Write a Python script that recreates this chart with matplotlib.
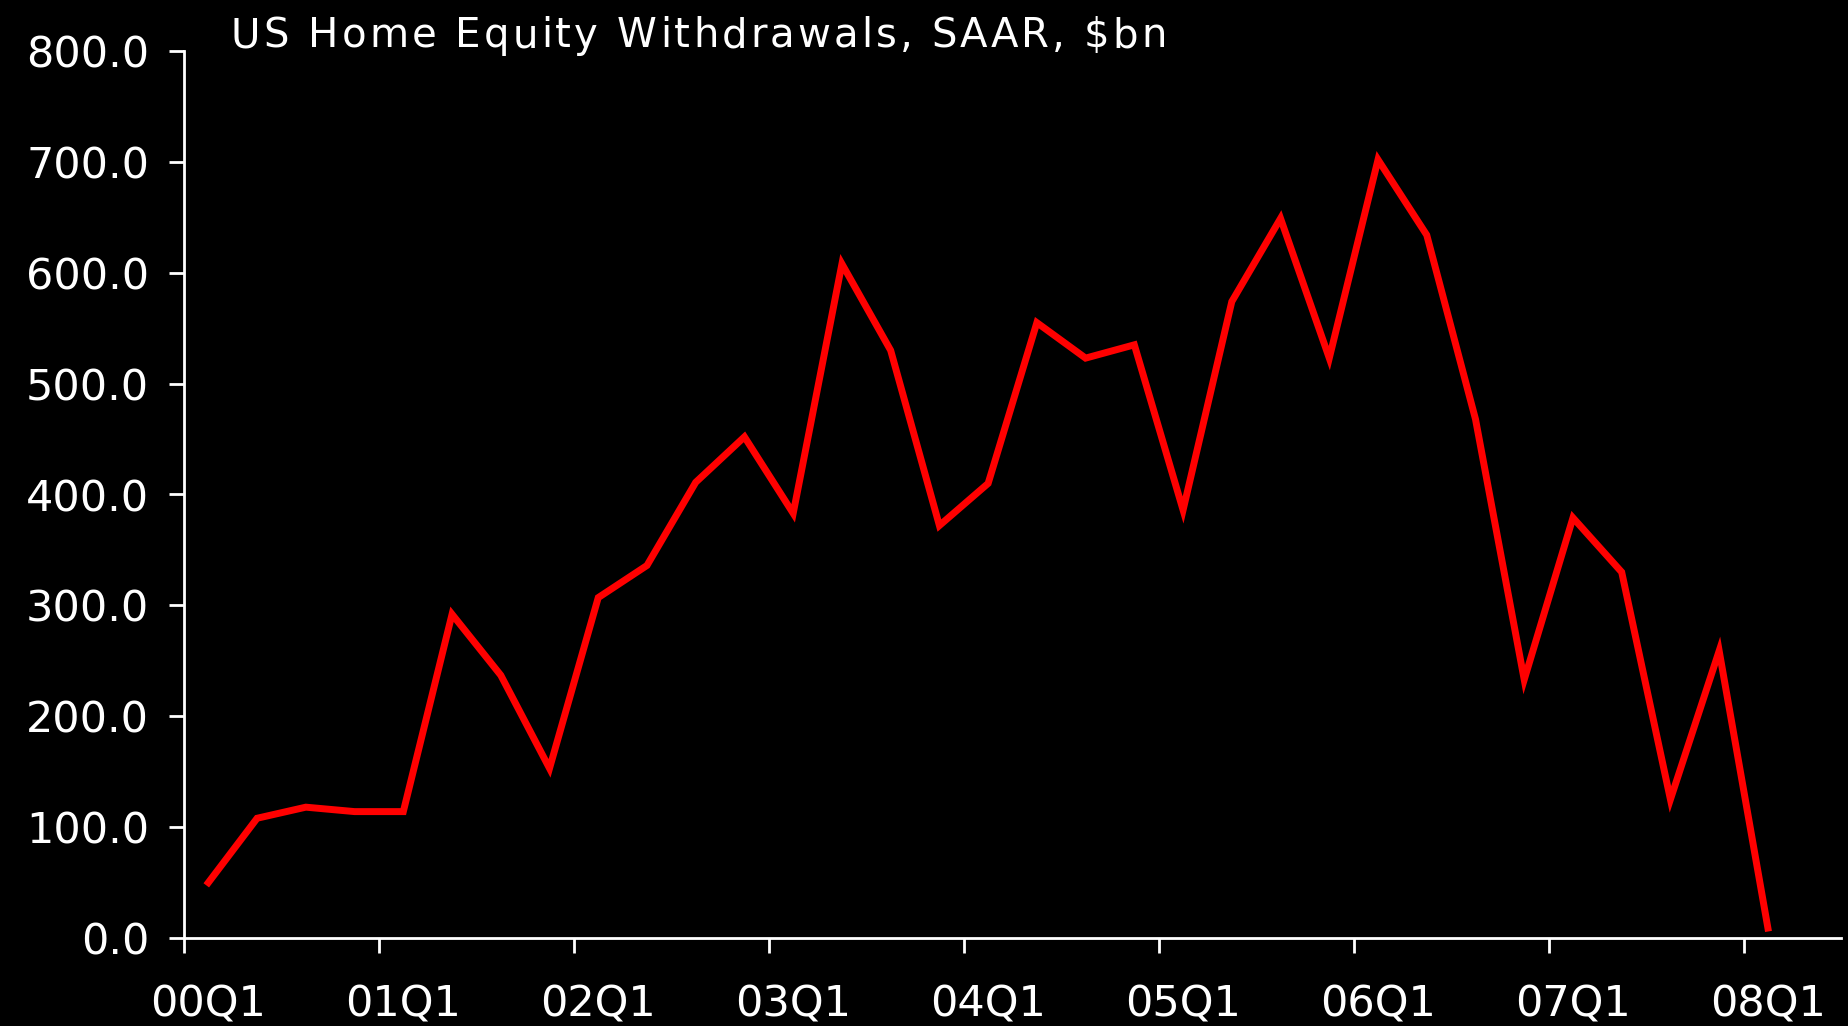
import matplotlib
matplotlib.use("Agg")
import matplotlib.pyplot as plt
import numpy as np

quarters = ["00Q1","00Q2","00Q3","00Q4","01Q1","01Q2","01Q3","01Q4",
            "02Q1","02Q2","02Q3","02Q4","03Q1","03Q2","03Q3","03Q4",
            "04Q1","04Q2","04Q3","04Q4","05Q1","05Q2","05Q3","05Q4",
            "06Q1","06Q2","06Q3","06Q4","07Q1","07Q2","07Q3","07Q4","08Q1"]
withdrawals = [50, 108, 118, 114, 114, 292, 237, 153,
               307, 336, 411, 452, 383, 608, 530, 372,
               410, 555, 523, 535, 386, 574, 649, 523,
               702, 634, 468, 233, 379, 330, 125, 259, 9]
yticks = [0, 100, 200, 300, 400, 500, 600, 700, 800]
title = "US Home Equity Withdrawals, SAAR, $bn"

plt.rcParams['font.family'] = ['DejaVu Sans']

W, H = 1849, 1026
fig = plt.figure(figsize=(W/100, H/100), dpi=100, facecolor='black')
ax = fig.add_axes([184/W, 1 - 938/H, (1841-184)/W, (938-51)/H])
ax.set_facecolor('black')

x = np.arange(len(quarters))
ax.plot(x, withdrawals, color='#ff0000', lw=5, solid_joinstyle='miter', clip_on=False)

ax.set_xlim(-0.5, len(quarters) + 0.5)
ax.set_ylim(0, 800)

for s in ['top', 'right']:
    ax.spines[s].set_visible(False)
for s in ['left', 'bottom']:
    ax.spines[s].set_color('white')
    ax.spines[s].set_linewidth(2)

ax.set_yticks(yticks)
ax.set_yticklabels([f"{v:.1f}" for v in yticks])
ax.tick_params(axis='y', colors='white', labelsize=31, length=11, width=2, pad=14)

# major ticks at category boundaries (no labels), minor at centres (labels)
ax.set_xticks(np.arange(-0.5, len(quarters), 4))
ax.set_xticklabels([])
ax.set_xticks(np.arange(0, len(quarters), 4), minor=True)
ax.set_xticklabels([quarters[i] for i in range(0, len(quarters), 4)], minor=True)
ax.tick_params(axis='x', which='major', colors='white', length=11, width=2)
ax.tick_params(axis='x', which='minor', colors='white', length=0, labelsize=31, pad=33)

# title drawn with extra letter spacing
fig.canvas.draw()
renderer = fig.canvas.get_renderer()
xpos = 231
spacing = 3.1
for ch in title:
    t = fig.text(xpos / W, 1 - 47/H, ch, color='white', fontsize=29,
                 ha='left', va='baseline')
    if ch == ' ':
        t2 = fig.text(0, 0, 'a a', fontsize=29)
        t3 = fig.text(0, 0, 'aa', fontsize=29)
        w = t2.get_window_extent(renderer).width - t3.get_window_extent(renderer).width
        t2.remove(); t3.remove()
    else:
        w = t.get_window_extent(renderer).width
    xpos += w + spacing

fig.savefig('out.png', dpi=100, facecolor='black')
